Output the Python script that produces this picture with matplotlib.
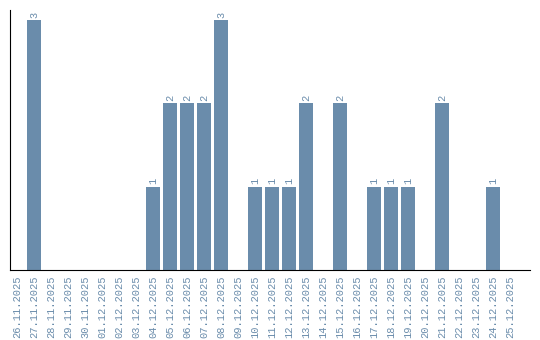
import numpy as np
from matplotlib import pyplot as plt

dates = ['26.11.2025', '27.11.2025', '28.11.2025', '29.11.2025', '30.11.2025',
	'01.12.2025', '02.12.2025', '03.12.2025', '04.12.2025', '05.12.2025',
	'06.12.2025', '07.12.2025', '08.12.2025', '09.12.2025', '10.12.2025',
	'11.12.2025', '12.12.2025', '13.12.2025', '14.12.2025', '15.12.2025',
	'16.12.2025', '17.12.2025', '18.12.2025', '19.12.2025', '20.12.2025',
	'21.12.2025', '22.12.2025', '23.12.2025', '24.12.2025', '25.12.2025']
counts = [0, 3, 0, 0, 0, 0, 0, 0, 1, 2, 2, 2, 3, 0, 1, 1, 1, 2, 0, 2,
	0, 1, 1, 1, 0, 2, 0, 0, 1, 0]

color = '#6a8cab'

fig = plt.figure(figsize=(5.4, 3.4), dpi=100)
ax = fig.add_axes([10 / 540, 70 / 340, 520 / 540, 260 / 340])

x = np.arange(len(dates))
ax.bar(x, counts, width=0.82, color=color)
for i, v in zip(x, counts):
	if v > 0:
		ax.text(i, v + 0.03, str(v), rotation=90, ha='center', va='bottom',
			fontsize=7.5, color=color, family='Liberation Mono')

ax.set_xlim(-0.41, 30.18)
ax.set_ylim(0, 3.12)
ax.set_xticks(x)
ax.set_xticklabels(dates, rotation=90, fontsize=7.5, color=color,
	family='Liberation Mono')
ax.tick_params(axis='x', length=0, pad=4)
ax.set_yticks([])
ax.spines['top'].set_visible(False)
ax.spines['right'].set_visible(False)

fig.savefig('out.png', dpi=100)
